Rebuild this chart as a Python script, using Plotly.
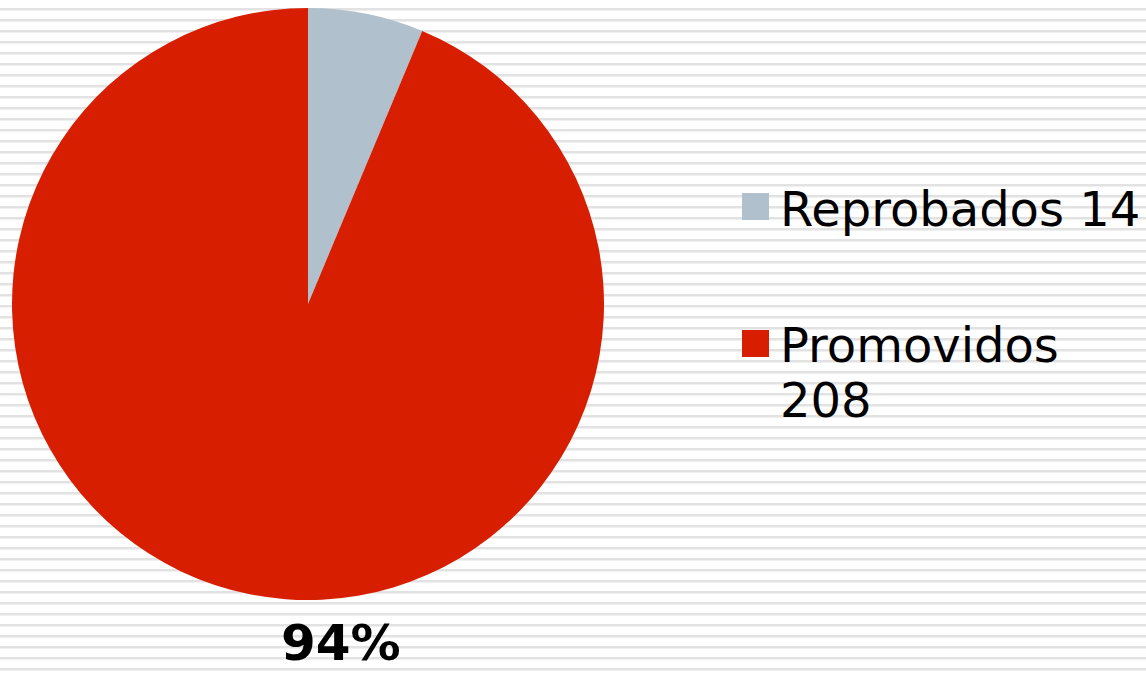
import plotly.graph_objects as go

# Data
labels = ["Reprobados", "Promovidos"]
values = [14, 208]
colors = ["#b1c0cd", "#d81e00"]
legend_lines = [["Reprobados 14"], ["Promovidos", "208"]]
pct_label = "94%"

W, H = 1146, 673

def px(x):
    return x / W

def py(y):
    return 1 - y / H

fig = go.Figure()
fig.add_trace(go.Pie(
    labels=labels, values=values,
    marker=dict(colors=colors, line=dict(width=0)),
    sort=False, direction="clockwise", rotation=0,
    textinfo="none", hoverinfo="label+value+percent",
    showlegend=False,
    domain=dict(x=[px(12), px(604)], y=[py(600), py(8)]),
))

shapes = []
# striped background
y = 8
while y < H:
    shapes.append(dict(type="rect", xref="paper", yref="paper", layer="below",
                       x0=0, x1=1, y0=py(y + 2.6), y1=py(y),
                       fillcolor="#e2e2e2", line=dict(width=0)))
    y += 11

annotations = []
# custom legend
FS = 48
leg_tops = [193, 330]
baselines = [[227], [363, 418]]
for i, (lines, c) in enumerate(zip(legend_lines, colors)):
    top = leg_tops[i]
    shapes.append(dict(type="rect", xref="paper", yref="paper",
                       x0=px(742), x1=px(769), y0=py(top + 27), y1=py(top),
                       fillcolor=c, line=dict(width=0)))
    for line, bl in zip(lines, baselines[i]):
        annotations.append(dict(text=line, xref="paper", yref="paper",
                                x=px(778), y=py(bl - FS), xanchor="left", yanchor="top",
                                align="left", showarrow=False,
                                font=dict(family="DejaVu Sans", size=FS, color="#000000")))

annotations.append(dict(text="<b>" + pct_label + "</b>", xref="paper", yref="paper",
                        x=px(341), y=0, xanchor="center", yanchor="bottom",
                        showarrow=False, borderpad=0,
                        font=dict(family="DejaVu Sans", size=50, color="#000000")))

fig.update_layout(
    width=W, height=H,
    margin=dict(l=0, r=0, t=0, b=0),
    paper_bgcolor="#ffffff", plot_bgcolor="#ffffff",
    shapes=shapes, annotations=annotations,
)

fig.write_html("out.html")
